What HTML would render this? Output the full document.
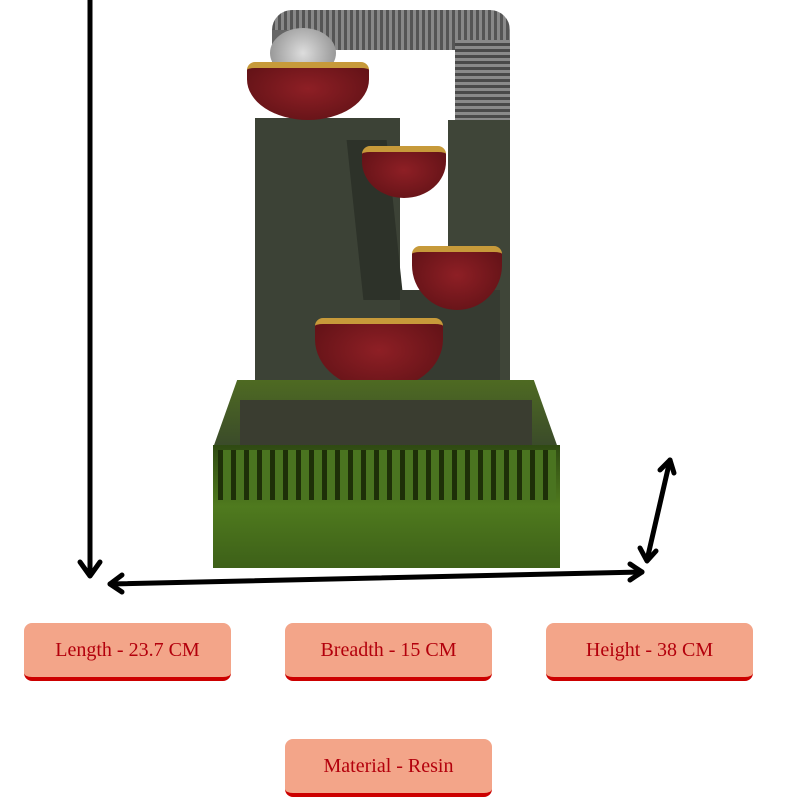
<!DOCTYPE html>
<html><head><style>
body{margin:0;width:800px;height:800px;background:#fff;position:relative;overflow:hidden;font-family:"Liberation Serif",serif}
.a{position:absolute}
.lab{position:absolute;width:207px;height:54px;background:#f3a589;border-radius:8px;border-bottom:4px solid #c00;color:#b3000c;font-size:20px;display:flex;align-items:center;justify-content:center}
.bowl{position:absolute;background:radial-gradient(ellipse at 50% 40%,#8e1f25,#5a1014);border-radius:8px 8px 50% 50%/8px 8px 70% 70%;border-top:6px solid #c79a3a}
</style></head><body>
<!-- arch -->
<div class="a" style="left:272px;top:10px;width:238px;height:40px;background:repeating-linear-gradient(90deg,#555 0 3px,#888 3px 6px);border-radius:20px 20px 0 0"></div>
<div class="a" style="left:455px;top:40px;width:55px;height:90px;background:repeating-linear-gradient(0deg,#4a4a4a 0 3px,#8a8a8a 3px 6px)"></div>
<div class="a" style="left:272px;top:30px;width:18px;height:40px;background:#666"></div>
<div class="a" style="left:270px;top:28px;width:66px;height:50px;border-radius:50%;background:radial-gradient(circle,#ddd,#888)"></div>
<!-- pillars -->
<div class="a" style="left:255px;top:118px;width:145px;height:300px;background:#3c4236"></div>
<div class="a" style="left:355px;top:140px;width:40px;height:160px;background:#2d3229;transform:skewX(6deg)"></div>
<div class="a" style="left:448px;top:120px;width:62px;height:295px;background:#3f4538"></div>
<div class="a" style="left:400px;top:290px;width:100px;height:125px;background:#363b31"></div>
<div class="a" style="left:332px;top:385px;width:100px;height:45px;background:repeating-linear-gradient(0deg,#444 0 3px,#999 3px 6px)"></div>
<!-- bowls -->
<div class="bowl" style="left:247px;top:62px;width:122px;height:52px"></div>
<div class="bowl" style="left:362px;top:146px;width:84px;height:46px"></div>
<div class="bowl" style="left:412px;top:246px;width:90px;height:58px"></div>
<div class="bowl" style="left:315px;top:318px;width:128px;height:66px"></div>
<!-- tray -->
<div class="a" style="left:213px;top:380px;width:345px;height:68px;background:linear-gradient(#4e6a22,#3a4a2a);clip-path:polygon(7% 0,93% 0,100% 100%,0 100%)"></div>
<div class="a" style="left:240px;top:400px;width:292px;height:45px;background:#3a3d30"></div>
<!-- base -->
<div class="a" style="left:213px;top:445px;width:347px;height:123px;background:linear-gradient(#2f4a12,#4f7a1e 50%,#3d6018)"></div>
<div class="a" style="left:218px;top:450px;width:338px;height:50px;background:repeating-linear-gradient(90deg,#1e3008 0 5px,#4a7420 5px 13px)"></div>
<!-- arrows -->
<svg class="a" style="left:0;top:0" width="800" height="800">
<g stroke="#000" stroke-width="5" fill="none" stroke-linecap="round" stroke-linejoin="round">
<line x1="90" y1="0" x2="90" y2="575"/><polyline points="80,562 90,576 100,562"/>
<line x1="110" y1="584" x2="642" y2="572"/><polyline points="122,575 110,584 122,592"/><polyline points="630,564 642,572 630,580"/>
<line x1="647" y1="560" x2="670" y2="460"/><polyline points="660,470 670,460 674,473"/><polyline points="640,548 647,561 656,551"/>
</g></svg>
<div class="lab" style="left:24px;top:623px">Length - 23.7 CM</div>
<div class="lab" style="left:285px;top:623px">Breadth - 15 CM</div>
<div class="lab" style="left:546px;top:623px">Height - 38 CM</div>
<div class="lab" style="left:285px;top:739px">Material - Resin</div>
</body></html>
